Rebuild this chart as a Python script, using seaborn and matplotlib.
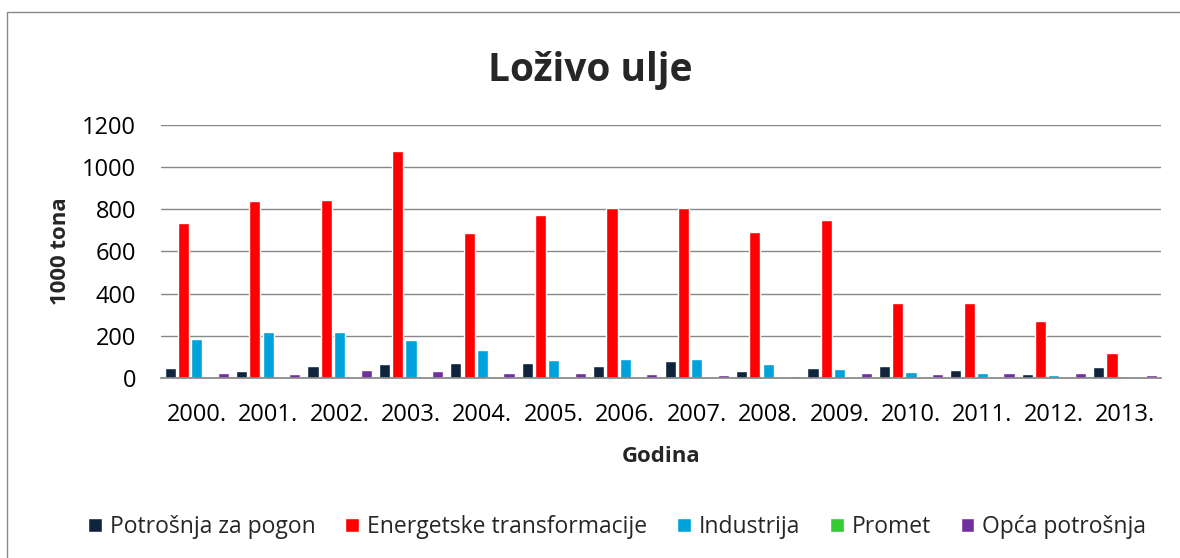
import numpy as np
import pandas as pd
import seaborn as sns
from matplotlib import pyplot as plt
from matplotlib.patches import Rectangle

# data (1000 t)
years = ['2000.', '2001.', '2002.', '2003.', '2004.', '2005.', '2006.',
         '2007.', '2008.', '2009.', '2010.', '2011.', '2012.', '2013.']
pogon = [46, 33, 55, 66, 69, 69, 55, 80, 31, 46, 57, 38, 20, 50]
energ = [735, 840, 845, 1075, 688, 775, 805, 808, 692, 750, 358, 355, 268, 117]
industrija = [187, 217, 217, 180, 135, 87, 91, 88, 68, 42, 28, 24, 16, 9]
promet = [0, 0, 4, 4, 0, 0, 0, 0, 0, 0, 0, 0, 0, 0]
opca = [24, 19, 38, 33, 24, 25, 17, 14, 9, 22, 20, 24, 24, 14]
series = ['Potrošnja za pogon', 'Energetske transformacije', 'Industrija',
          'Promet', 'Opća potrošnja']
colors = ['#10243E', '#FF0000', '#00A2DB', '#33CC33', '#7030A0']

df = pd.DataFrame({'Godina': years, series[0]: pogon, series[1]: energ,
                   series[2]: industrija, series[3]: promet, series[4]: opca})
df = df.melt(id_vars='Godina', var_name='serija', value_name='vrijednost')

sns.set_theme(style='white')
plt.rcParams['font.family'] = ['Open Sans', 'DejaVu Sans']

fig = plt.figure(figsize=(11.8, 5.58), dpi=100)
ax = fig.add_axes([161 / 1180, 0.3226, 1000 / 1180, 0.4534])
sns.barplot(data=df, x='Godina', y='vrijednost', hue='serija', hue_order=series,
            palette=colors, width=0.93, gap=0.16, saturation=1, ax=ax, legend=True)

ax.set_ylim(0, 1200)
ax.set_yticks(range(0, 1201, 200))
ax.yaxis.grid(True, color='#888888', linewidth=1)
ax.set_axisbelow(True)
for s in ['left', 'right', 'top']:
    ax.spines[s].set_visible(False)
ax.spines['bottom'].set_color('#888888')
ax.tick_params(axis='both', length=0, labelsize=17, colors='black')
ax.tick_params(axis='y', pad=18)
ax.tick_params(axis='x', pad=18)
ax.set_xlabel('Godina', fontsize=16, fontweight='bold', labelpad=14)
ax.set_ylabel('1000 tona', fontsize=16, fontweight='bold', labelpad=8)
fig.text(0.5, 1 - 70 / 558, 'Loživo ulje', ha='center', va='center', fontsize=28, fontweight='bold')

h, l = ax.get_legend_handles_labels()
ax.legend_.remove()
fig.legend(h, l, loc='center', bbox_to_anchor=(0.523, 1 - 527 / 558), ncol=5, frameon=False,
           fontsize=16.5, handlelength=0.6, handleheight=0.6, handletextpad=0.35,
           columnspacing=1.3)

fig.patches.append(Rectangle((7 / 1180, -0.1), 1.2, 1 - 12 / 558 + 0.1, transform=fig.transFigure,
                             fill=False, edgecolor='#888888', linewidth=1))

plt.savefig('out.png', dpi=100)
